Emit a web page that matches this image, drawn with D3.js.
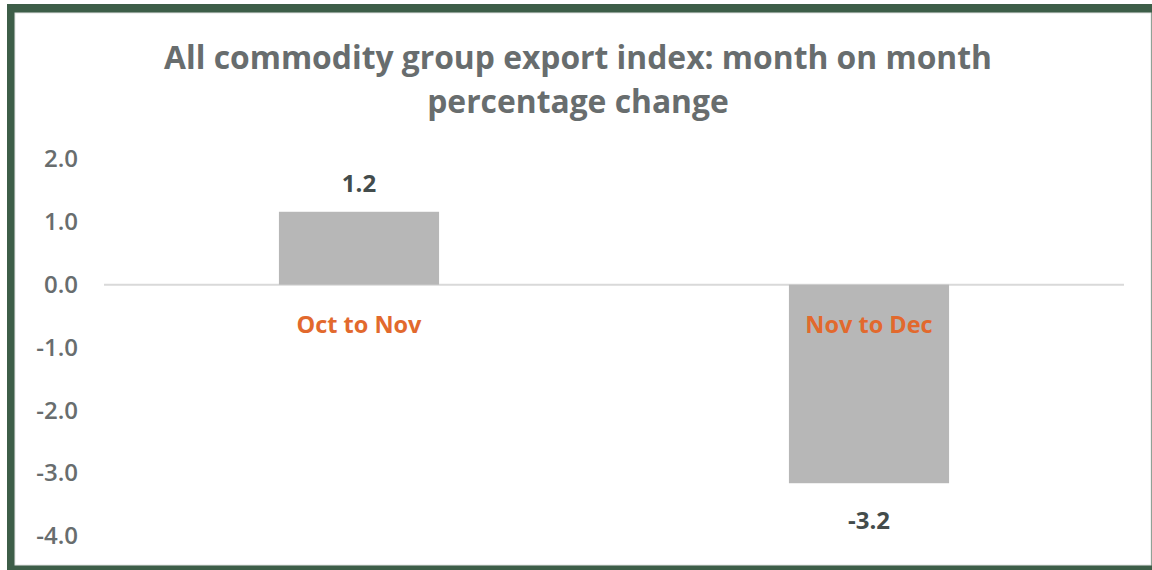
<!DOCTYPE html>
<html>
<head>
  <meta charset="utf-8">
  <script src="https://cdn.jsdelivr.net/npm/d3@7"></script>
  <style>
    body { margin: 0; background: #fff; }
    text { font-family: "Open Sans", "Noto Sans", sans-serif; }
  </style>
  <title>All commodity group export index</title>
</head>
<body>
<svg width="1152" height="570"></svg>
<script>
  // data
  var categories = ["Oct to Nov", "Nov to Dec"];
  var values = [1.16, -3.16];
  var yTicks = [2, 1, 0, -1, -2, -3, -4];
  var titleLines = ["All commodity group export index: month on month", "percentage change"];

  var svg = d3.select("svg");
  var fmt = function(v) { return d3.format(".1f")(v).replace("\u2212", "-"); };

  // frame: green border with a white panel inside
  svg.append("rect").attr("x", 7).attr("y", 4).attr("width", 1145).attr("height", 566).attr("fill", "#3d5e48");
  svg.append("rect").attr("x", 15).attr("y", 13).attr("width", 1136).attr("height", 552)
      .attr("fill", "#fff").attr("stroke", "#e3e3e3").attr("stroke-width", 1);

  var y = d3.scaleLinear().domain([-4, 2]).range([536, 159]);
  var x = d3.scaleBand().domain(categories).range([104, 1124])
      .paddingInner(0.686).paddingOuter(0.343);

  // title
  svg.append("g").selectAll("text").data(titleLines).enter()
      .append("text")
      .attr("x", 578)
      .attr("y", function(d, i) { return 69 + i * 44; })
      .attr("text-anchor", "middle")
      .attr("font-size", 31.8)
      .attr("font-weight", "bold")
      .attr("fill", "#686d6e")
      .text(function(d) { return d; });

  // y axis labels only, no line
  var yAxis = d3.axisLeft(y).tickValues(yTicks).tickFormat(fmt).tickSize(0).tickPadding(0);
  var gy = svg.append("g").attr("transform", "translate(78,0)").call(yAxis);
  gy.select(".domain").remove();
  gy.selectAll("text")
      .attr("font-size", 24)
      .attr("font-weight", 600)
      .attr("fill", "#686d6e")
      .style("font-family", "'Open Sans', 'Noto Sans', sans-serif");

  // zero line
  svg.append("line")
      .attr("x1", 104).attr("x2", 1124)
      .attr("y1", y(0)).attr("y2", y(0))
      .attr("stroke", "#d9d9d9").attr("stroke-width", 2);

  var rows = categories.map(function(c, i) { return { cat: c, v: values[i] }; });

  svg.append("g").selectAll("rect").data(rows).enter()
      .append("rect")
      .attr("x", function(d) { return x(d.cat); })
      .attr("width", x.bandwidth())
      .attr("y", function(d) { return y(Math.max(0, d.v)); })
      .attr("height", function(d) { return Math.abs(y(d.v) - y(0)); })
      .attr("fill", "#b7b7b7");

  // value labels
  svg.append("g").selectAll("text").data(rows).enter()
      .append("text")
      .attr("x", function(d) { return x(d.cat) + x.bandwidth() / 2; })
      .attr("y", function(d) { return d.v >= 0 ? y(d.v) - 20 : y(d.v) + 46; })
      .attr("text-anchor", "middle")
      .attr("font-size", 24)
      .attr("font-weight", "bold")
      .attr("fill", "#434c4c")
      .text(function(d) { return fmt(d.v); });

  // category labels sit just under the zero line
  svg.append("g").selectAll("text").data(rows).enter()
      .append("text")
      .attr("x", function(d) { return x(d.cat) + x.bandwidth() / 2; })
      .attr("y", y(0) + 48)
      .attr("text-anchor", "middle")
      .attr("font-size", 23.5)
      .attr("font-weight", "bold")
      .attr("fill", "#e2692d")
      .text(function(d) { return d.cat; });
</script>
</body>
</html>
